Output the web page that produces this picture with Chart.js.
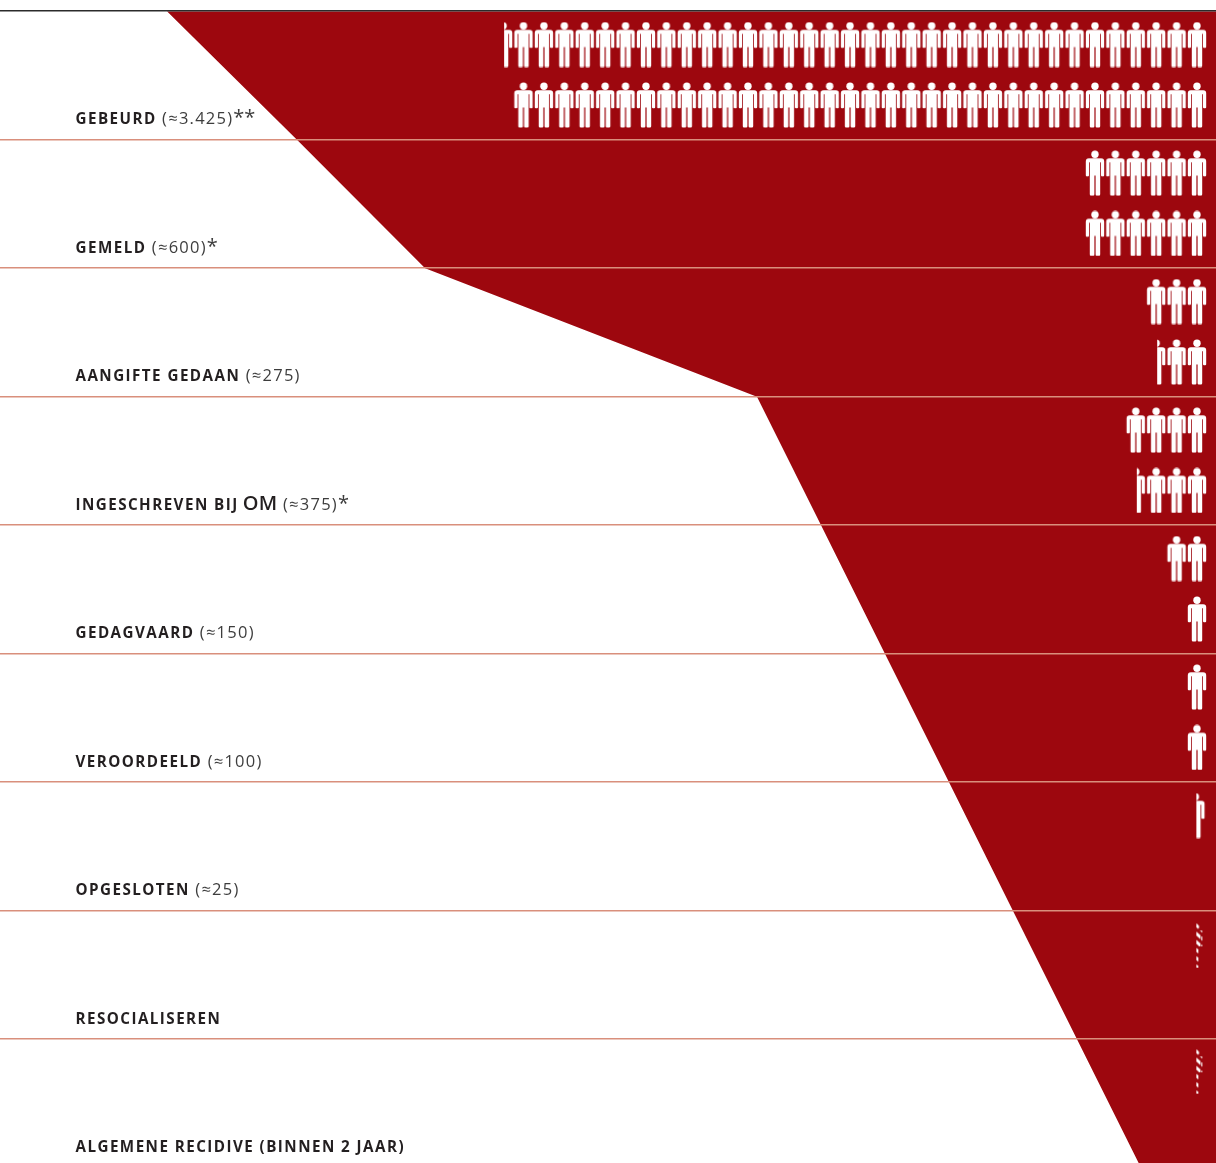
<!DOCTYPE html>
<html>
<head>
<meta charset="utf-8">
<title>Trechter</title>
<script src="https://cdn.jsdelivr.net/npm/chart.js@4"></script>
<style>
    html, body { margin: 0; padding: 0; background: #fff; }
    canvas { display: block; }
</style>
</head>
<body>
<canvas id="funnelChart" width="1216" height="1163"></canvas>
<script>
// Labels per row
const rowNames = ['GEBEURD', 'GEMELD', 'AANGIFTE GEDAAN', 'INGESCHREVEN BIJ', 'GEDAGVAARD', 'VEROORDEELD', 'OPGESLOTEN', 'RESOCIALISEREN', 'ALGEMENE RECIDIVE (BINNEN 2 JAAR)'];
const rowAbbr = ['', '', '', 'OM', '', '', '', '', ''];
const rowCounts = ['(≈3.425)', '(≈600)', '(≈275)', '(≈375)', '(≈150)', '(≈100)', '(≈25)', '', ''];
const rowNotes = ['**', '*', '', '*', '', '', '', '', ''];

// Pictograms per row (1 figure is about 50 people), upper and lower lane
const figuresUpper = [34.5, 6, 3, 4, 2, 1, 0.5, 0, 0];
const figuresLower = [34, 6, 2.5, 3.5, 1, 1, 0, 0, 0];

// Hatched figures have no number behind them: row position + lane
const hatchedRows = [7.27, 8.25];

// Funnel edge, measured in figure slots from the right, at each row position
const funnelRows = [0, 1, 2, 3, 4, 5, 6, 7, 8, 8.97];
const funnelEdge = [50.47, 44.1, 37.82, 21.56, 18.42, 15.29, 12.15, 9.02, 5.88, 2.84];

// Separator lines
const rowLines = [0, 1, 2, 3, 4, 5, 6, 7, 8];

const RED = '#9d070e';
const LANE_UPPER = 0.26;
const LANE_LOWER = 0.73;

function drawFigure(g, cx, top) {
    g.fillStyle = '#fff';
    g.beginPath();
    g.arc(cx, top + 3.7, 3.7, 0, Math.PI * 2);
    g.fill();
    g.beginPath();
    g.roundRect(cx - 9.2, top + 7.8, 18.4, 4, [3, 3, 0, 0]);
    g.roundRect(cx - 9.2, top + 10, 3.2, 15.8, 1);
    g.roundRect(cx + 6, top + 10, 3.2, 15.8, 1);
    g.rect(cx - 5.2, top + 10, 10.4, 15);
    g.roundRect(cx - 5.2, top + 24, 4.6, 21, 1.2);
    g.roundRect(cx + 0.6, top + 24, 4.6, 21, 1.2);
    g.fill();
}

function makeFigure(kind) {
    const c = document.createElement('canvas');
    c.width = 24;
    c.height = 46;
    const g = c.getContext('2d');
    drawFigure(g, 12, 0.5);
    if (kind !== 'full') g.clearRect(0, 0, 12.8, 46);
    if (kind === 'hatched') {
        // coarse diagonal stripes over the half figure, legs reduced to a dashed line
        g.clearRect(14.8, 24, 10, 22);
        g.clearRect(18.6, 0, 6, 46);
        g.globalCompositeOperation = 'destination-in';
        g.fillStyle = '#fff';
        g.beginPath();
        for (let i = -4; i < 14; i++) {
            const y = i * 8.2;
            g.moveTo(12, y);
            g.lineTo(24, y + 11);
            g.lineTo(24, y + 15);
            g.lineTo(12, y + 4);
            g.closePath();
        }
        g.fill();
    }
    return c;
}

// Turn the figure counts into points on the shared scales
const fullPoints = [];
const halfPoints = [];
function addFigures(counts, lane) {
    counts.forEach((count, row) => {
        const whole = Math.floor(count);
        for (let slot = 0; slot < whole; slot++) fullPoints.push({ x: slot, y: row + lane });
        // the lone half figure in a row sits slightly further left than a full slot
        if (count > whole) halfPoints.push({ x: whole === 0 ? 0.08 : whole, y: row + lane });
    });
}
addFigures(figuresUpper, LANE_UPPER);
addFigures(figuresLower, LANE_LOWER);

const funnelPoints = funnelRows.map((r, i) => ({ x: funnelEdge[i], y: r }));
const hatchPoints = hatchedRows.map(r => ({ x: 0.08, y: r }));

const X_RIGHT = -0.931;
const X_LEFT = 58.65;

// Row texts are written on the canvas, baseline just above the row's bottom line
const rowLabels = {
    id: 'rowLabels',
    afterDraw(chart) {
        const { ctx, scales } = chart;
        ctx.save();
        ctx.textBaseline = 'alphabetic';
        ctx.textAlign = 'left';
        rowNames.forEach((name, i) => {
            const y = scales.y.getPixelForValue(i + 1) - 15.6;
            let x = 75.5;
            const put = (text, font, spacing, color, dy = 0) => {
                if (!text) return;
                ctx.font = font;
                ctx.letterSpacing = spacing;
                ctx.fillStyle = color;
                ctx.fillText(text, x, y + dy);
                x += ctx.measureText(text).width;
            };
            put(name, "700 15.2px 'Open Sans'", '1.45px', '#231f20');
            if (rowAbbr[i]) {
                x += 4;
                put(rowAbbr[i], "600 20px 'Open Sans'", '0.3px', '#231f20');
            }
            if (rowCounts[i]) {
                x += 5.5;
                put(rowCounts[i], "400 16.5px 'Open Sans'", '1.25px', '#3d3d3d');
            }
            put(rowNotes[i], "400 20px 'Open Sans'", '0px', '#3d3d3d', 0);
        });
        ctx.restore();
    }
};

new Chart(document.getElementById('funnelChart'), {
    type: 'line',
    plugins: [rowLabels],
    data: {
        datasets: [
            {
                data: funnelPoints,
                order: 3,
                borderWidth: 0,
                borderColor: RED,
                backgroundColor: RED,
                pointRadius: 0,
                fill: { target: { value: X_RIGHT } }
            },
            { data: fullPoints, order: 1, showLine: false, pointRadius: 3, pointStyle: makeFigure('full') },
            { data: halfPoints, order: 1, showLine: false, pointRadius: 3, pointStyle: makeFigure('half') },
            { data: hatchPoints, order: 1, showLine: false, pointRadius: 3, pointStyle: makeFigure('hatched') }
        ]
    },
    options: {
        indexAxis: 'y',
        responsive: false,
        animation: false,
        layout: { padding: 0, autoPadding: false },
        plugins: { legend: { display: false }, tooltip: { enabled: false } },
        scales: {
            x: { type: 'linear', reverse: true, min: X_RIGHT, max: X_LEFT, display: false },
            y: {
                type: 'linear',
                reverse: true,
                min: -0.087,
                max: 8.964,
                afterBuildTicks: scale => { scale.ticks = rowLines.map(v => ({ value: v })); },
                ticks: { display: false },
                border: { display: false },
                grid: {
                    z: 1,
                    drawTicks: false,
                    color: c => c.tick.value === 0 ? '#2b2b2b' : '#d98f7c',
                    lineWidth: c => c.tick.value === 0 ? 1.5 : 1.4
                }
            }
        }
    }
});
</script>
</body>
</html>
